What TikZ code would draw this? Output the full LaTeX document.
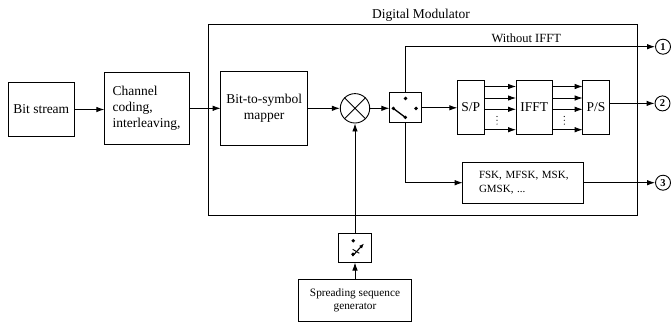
\documentclass[tikz,border=0pt]{standalone}
\usepackage{fontspec}
\setmainfont{Liberation Serif}
\usetikzlibrary{arrows.meta,calc}
\begin{document}
\begin{tikzpicture}[x=1pt,y=-1pt,
  line width=0.9pt,
  blk/.style={draw,rectangle,inner sep=0pt,outer sep=0pt,font=\fontsize{13.5}{15.7}\selectfont},
  num/.style={draw,circle,minimum size=15pt,inner sep=0pt,font=\fontsize{10.5}{12}\selectfont\bfseries},
  arr/.style={-{Latex[length=8pt,width=5.5pt]}},
  dotf/.style={fill=black,draw=none}]
\useasboundingbox (0,0) rectangle (671,325);
% outer box
\node[draw,rectangle,inner sep=0pt,minimum width=429.2pt,minimum height=191.4pt] (main) at (422.9,120) {};
\node[anchor=base,font=\fontsize{13.5}{15}\selectfont] (title) at (421,18) {Digital Modulator};
% blocks
\node[blk,minimum width=66pt,minimum height=54.6pt] (bits) at (41.3,109.5) {Bit stream};
\node[blk,minimum width=84.7pt,minimum height=72.6pt,align=left,text width=68pt] (chan) at (146.7,108.3) {Channel\\coding,\\interleaving,};
\node[blk,minimum width=87pt,minimum height=74pt,align=center] (map) at (264.2,108.3) {Bit-to-symbol\\mapper};
\node[draw,circle,minimum size=29.4pt,inner sep=0pt] (mul) at (355,108.3) {};
\draw[line width=0.8pt] (mul.north west) -- (mul.south east) (mul.north east) -- (mul.south west);
\node[blk,minimum width=31.7pt,minimum height=30pt] (sw) at (405.2,107.8) {};
\node[blk,minimum width=27pt,minimum height=54.3pt] (sp) at (470.8,107.2) {S/P};
\node[blk,minimum width=36.3pt,minimum height=54.3pt] (ifft) at (534.2,107.2) {IFFT};
\node[blk,minimum width=26.6pt,minimum height=54.3pt] (ps) at (596,107.2) {P/S};
\node[blk,minimum width=120.6pt,minimum height=40.7pt,align=left,text width=88pt,font=\fontsize{11}{13.3}\selectfont] (fsk) at (523,182.7) {\mbox{FSK, MFSK, MSK,}\\GMSK, ...};
\node[num] (o1) at (663,46.7) {1};
\node[num] (o2) at (662.5,103.4) {2};
\node[num] (o3) at (663,182.7) {3};
\node[blk,minimum width=33pt,minimum height=29pt] (sw2) at (355,248) {};
\node[blk,minimum width=112.7pt,minimum height=42pt,align=center,font=\fontsize{11.3}{12.7}\selectfont] (gen) at (355,300) {Spreading sequence\\generator};
\node[anchor=base,font=\fontsize{12.5}{14}\selectfont] (woi) at (526.3,42.5) {Without IFFT};
% switch 1 icon
\fill (sw.center) ++(0.3,-9.4) circle (1.9);
\fill (sw.center) ++(10.8,0.6) circle (1.9);
\fill (sw.center) ++(-11.9,0.6) circle (1.9);
\fill (sw.center) ++(0.1,9.6) circle (1.9);
\draw[line width=1.3pt] ($(sw.center)+(-11.9,0.6)$) -- ($(sw.center)+(0.1,9.6)$);
% switch 2 icon
\fill (sw2.center) ++(-1.7,-7.3) circle (1.9);
\fill (sw2.center) ++(-2,6.3) circle (1.9);
\draw[line width=1.1pt,-{Latex[length=5pt,width=4pt]}] ($(sw2.center)+(-2.5,8)$) -- ($(sw2.center)+(9,-4.5)$);
\draw[line width=0.9pt] ($(sw2.center)+(-2.3,1.3)$) -- ($(sw2.center)+(4.3,5.3)$);
% connectors
\draw[arr] (bits.east) -- (bits.east -| chan.west);
\draw[arr] (chan.east) -- (chan.east -| map.west);
\draw[arr] (map.east) -- (map.east -| mul.west);
\draw[arr] (mul.east) -- (mul.east -| sw.west);
\draw[arr] (sw.east) -- (sw.east -| sp.west);
\draw[arr] (sw.north) |- (o1.west);
\draw[arr] (sw.south) |- (fsk.west);
\draw[arr] (fsk.east) -- (o3.west);
\draw[arr] (ps.east |- o2.west) -- (o2.west);
\foreach \yy in {86.5,98,109.3,129.7}{
  \draw[arr] (sp.east |- 0,\yy) -- (ifft.west |- 0,\yy);
  \draw[arr] (ifft.east |- 0,\yy) -- (ps.west |- 0,\yy);
}
\foreach \xx in {497,564.3}{
  \foreach \yy in {116.5,120.3,124.1}{
    \fill (\xx,\yy) circle (0.6);
  }
}
\draw[arr] (sw2.north) -- (mul.south);
\draw[arr] (gen.north) -- (sw2.south);
\end{tikzpicture}
\end{document}
